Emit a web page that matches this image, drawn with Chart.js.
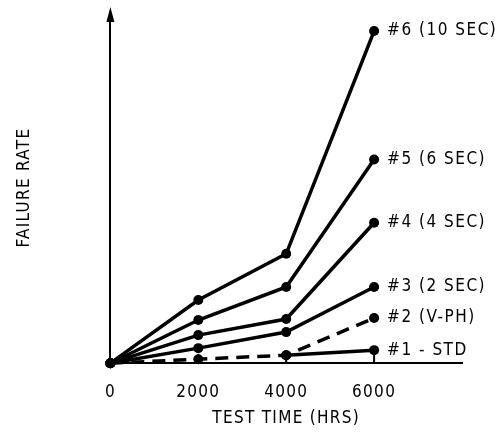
<!DOCTYPE html>
<html>
<head>
<meta charset="utf-8">
<script src="https://cdn.jsdelivr.net/npm/chart.js@4.4.1/dist/chart.umd.min.js"></script>
<style>
    html, body { margin: 0; padding: 0; background: #fff; }
    #wrap { width: 499px; height: 445px; }
</style>
</head>
<body>
<div id="wrap"><canvas id="failureChart"></canvas></div>
<script>
// test time (hrs) and failure rate readings (relative units) per test group
const testHours = [0, 2000, 4000, 6000];
const tickLabels = ['0', '2000', '4000', '6000'];
const seriesNames = ['#6 (10 SEC)', '#5 (6 SEC)', '#4 (4 SEC)', '#3 (2 SEC)', '#2 (V-PH)', '#1 - STD'];
const rate6 = [0, 6.3, 10.9, 33.1];
const rate5 = [0, 4.3, 7.6, 20.3];
const rate4 = [0, 2.8, 4.4, 14.0];
const rate3 = [0, 1.5, 3.1, 7.6];
const rate2 = [0, 0.4, 0.8, 4.5];
const rate1 = [null, null, 0.8, 1.3];

const FONT = "'DejaVu Sans Condensed', 'DejaVu Sans', sans-serif";

function toPoints(values) {
    return testHours.map((h, i) => ({ x: h, y: values[i] }));
}

function makeSet(name, values, dashed) {
    return {
        label: name,
        data: toPoints(values),
        borderColor: '#000',
        backgroundColor: '#000',
        borderWidth: 3.5,
        borderDash: dashed ? [13, 8] : [],
        pointRadius: 5,
        pointBackgroundColor: '#000',
        pointBorderWidth: 0,
        tension: 0,
        clip: false
    };
}

// letter spacing for the drafting-style text
const spacingPlugin = {
    id: 'spacing',
    beforeDraw(chart) {
        chart.ctx.letterSpacing = '1.3px';
    }
};

// arrow on y axis, inward ticks on x axis and series labels
const decorPlugin = {
    id: 'decor',
    afterDatasetsDraw(chart) {
        const ctx = chart.ctx;
        const area = chart.chartArea;
        const xs = chart.scales.x;
        const ys = chart.scales.y;
        ctx.save();
        ctx.fillStyle = '#000';
        ctx.strokeStyle = '#000';

        // arrow head
        ctx.beginPath();
        ctx.moveTo(area.left, area.top - 5);
        ctx.lineTo(area.left - 4, area.top + 10);
        ctx.lineTo(area.left + 4, area.top + 10);
        ctx.closePath();
        ctx.fill();

        // tick marks pointing up
        ctx.lineWidth = 2;
        testHours.slice(1).forEach(h => {
            const px = xs.getPixelForValue(h);
            ctx.beginPath();
            ctx.moveTo(px, ys.getPixelForValue(0));
            ctx.lineTo(px, ys.getPixelForValue(0) - 9);
            ctx.stroke();
        });

        // series labels at the last point
        ctx.letterSpacing = '1.5px';
        ctx.font = '17px ' + FONT;
        ctx.textBaseline = 'middle';
        ctx.textAlign = 'left';
        chart.data.datasets.forEach((ds, i) => {
            const meta = chart.getDatasetMeta(i);
            const last = meta.data[meta.data.length - 1];
            ctx.fillText(ds.label, last.x + 13, last.y);
        });
        ctx.restore();
    }
};

const chart = new Chart(document.getElementById('failureChart').getContext('2d'), {
    type: 'line',
    data: {
        datasets: [
            makeSet(seriesNames[0], rate6, false),
            makeSet(seriesNames[1], rate5, false),
            makeSet(seriesNames[2], rate4, false),
            makeSet(seriesNames[3], rate3, false),
            makeSet(seriesNames[4], rate2, true),
            makeSet(seriesNames[5], rate1, false)
        ]
    },
    options: {
        responsive: true,
        maintainAspectRatio: false,
        animation: false,
        layout: {
            padding: { left: 6, right: 37, top: 12, bottom: 8 }
        },
        plugins: {
            legend: { display: false },
            tooltip: { enabled: false }
        },
        scales: {
            x: {
                type: 'linear',
                min: 0,
                max: 8000,
                grid: { display: false, drawTicks: false },
                border: { display: true, color: '#000', width: 2 },
                ticks: {
                    stepSize: 2000,
                    padding: 19,
                    color: '#000',
                    font: { family: FONT, size: 17 },
                    maxRotation: 0,
                    callback: (v) => {
                        const i = testHours.indexOf(v);
                        return i >= 0 ? tickLabels[i] : '';
                    }
                },
                title: {
                    display: true,
                    text: 'TEST TIME (HRS)',
                    color: '#000',
                    font: { family: FONT, size: 17 },
                    padding: { top: -13, bottom: 8 }
                }
            },
            y: {
                min: 0,
                max: 35,
                grid: { display: false, drawTicks: false },
                border: { display: true, color: '#000', width: 2 },
                ticks: { display: false },
                title: {
                    display: true,
                    text: 'FAILURE RATE',
                    color: '#000',
                    font: { family: FONT, size: 17 },
                    padding: { top: 8, bottom: 76 }
                }
            }
        }
    },
    plugins: [spacingPlugin, decorPlugin]
});
</script>
</body>
</html>
